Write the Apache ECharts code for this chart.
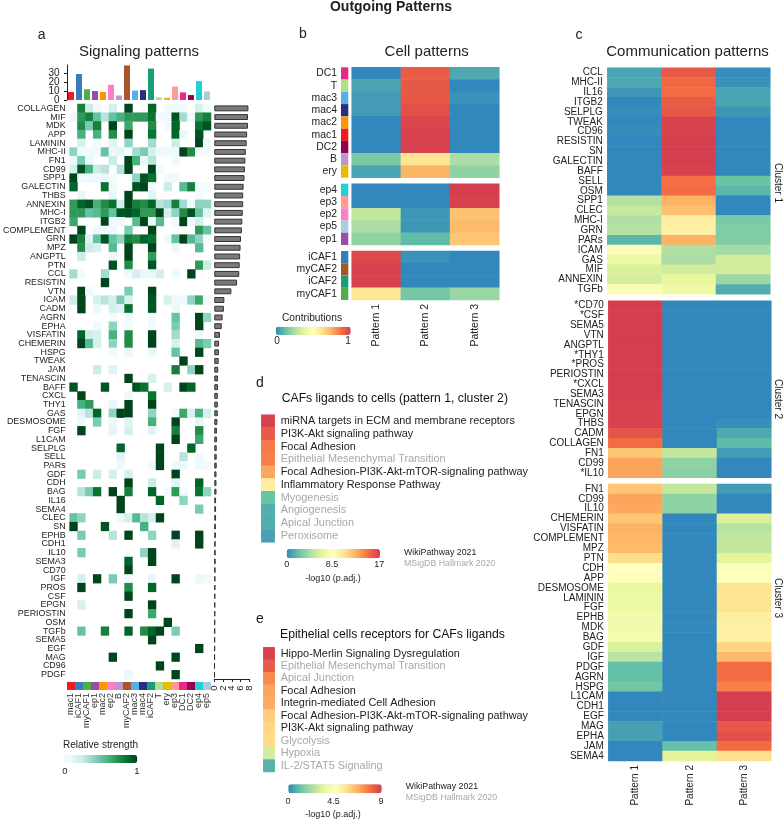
<!DOCTYPE html>
<html>
<head>
<meta charset="utf-8">
<title>Outgoing Patterns</title>
<script src="https://cdn.jsdelivr.net/npm/echarts@6/dist/echarts.min.js"></script>
<style>
  html, body { margin: 0; padding: 0; background: #fff; }
  #chart { width: 783px; height: 821px; }
</style>
</head>
<body>
<div id="chart"></div>
<script>
// cell types, in the column order of panel a
const cellTypes = ['mac1', 'iCAF1', 'myCAF1', 'ep1', 'mac2', 'ep2', 'B', 'myCAF2', 'mac3', 'mac4', 'iCAF2', 'T', 'ery', 'ep3', 'DC1', 'DC2', 'ep4', 'ep5']
const cellColors = ['#ec1c24', '#377eb8', '#4daf4a', '#984ea3', '#ff9600', '#fb7fc4', '#bb99d0', '#a65628', '#56b0e8', '#262e7f', '#1b9e77', '#b2df8a', '#e6bc00', '#ff9a98', '#e7298a', '#990050', '#20d0d8', '#a6cee3']
const cellTotals = [9, 29, 12, 10, 9, 17, 5, 38.5, 10.5, 11, 35, 3, 2.5, 15, 8.5, 5.5, 21, 9.5]
const cellTotalTicks = [0, 10, 20, 30]

// panel a rows
const signalNames = ['COLLAGEN', 'MIF', 'MDK', 'APP', 'LAMININ', 'MHC-II', 'FN1', 'CD99', 'SPP1', 'GALECTIN', 'THBS', 'ANNEXIN', 'MHC-I', 'ITGB2', 'COMPLEMENT', 'GRN', 'MPZ', 'ANGPTL', 'PTN', 'CCL', 'RESISTIN', 'VTN', 'ICAM', 'CADM', 'AGRN', 'EPHA', 'VISFATIN', 'CHEMERIN', 'HSPG', 'TWEAK', 'JAM', 'TENASCIN', 'BAFF', 'CXCL', 'THY1', 'GAS', 'DESMOSOME', 'FGF', 'L1CAM', 'SELPLG', 'SELL', 'PARs', 'GDF', 'CDH', 'BAG', 'IL16', 'SEMA4', 'CLEC', 'SN', 'EPHB', 'CDH1', 'IL10', 'SEMA3', 'CD70', 'IGF', 'PROS', 'CSF', 'EPGN', 'PERIOSTIN', 'OSM', 'TGFb', 'SEMA5', 'EGF', 'MAG', 'CD96', 'PDGF']
const signalTotals = [7.8, 7.7, 7.7, 7.5, 7.4, 7.2, 7.1, 7.0, 6.9, 6.7, 6.6, 6.6, 6.5, 6.4, 6.3, 6.1, 6.0, 5.9, 5.8, 5.7, 5.2, 3.9, 2.3, 2.2, 1.9, 1.7, 1.3, 1.1, 1.05, 1.0, 0.9, 0.85, 0.85, 0.8, 0.8, 0.8, 0.7, 0.6, 0.6, 0.55, 0.55, 0.55, 0.5, 0.5, 0.5, 0.4, 0.4, 0.4, 0.35, 0.35, 0.3, 0.3, 0.3, 0.28, 0.25, 0.25, 0.22, 0.2, 0.2, 0.18, 0.18, 0.15, 0.15, 0.12, 0.1, 0.1]
const signalTotalTicks = [0, 2, 4, 6, 8]
const signalStrength = [
  [0,.8,.25,.03,0,.2, 0,1,0,0,.9,0, .03,.05,.05,0,.2,.05],
  [.07,.7,.8,.5,.3,.5, .6,.7,.7,.7,.85,.05, .05,.95,.35,.05,.7,.8],
  [0,.75,.45,.8,0,1, 0,.65,0,0,.75,0, .03,.9,0,0,.85,.95],
  [0,.6,0,.6,0,.75, 0,1,0,0,.85,0, 0,.9,.08,0,.95,0],
  [0,.2,0,.04,0,.15, 0,.4,0,0,.35,0, 0,.25,0,0,1,.08],
  [.4,.05,.05,.05,.5,.08, .12,.02,.35,.45,.2,.06, .05,.05,1,.75,.03,.03],
  [.06,.45,.07,0,0,.25, 0,1,.6,.1,.3,0, 0,.05,0,0,0,0],
  [.2,.95,.6,.25,.3,0, .3,1,0,0,1,.04, 0,0,0,0,0,0],
  [1,.05,.05,.06,.1,.04, 0,0,.4,.95,.85,0, .03,.05,0,0,0,0],
  [.9,0,0,0,.85,.03, 0,0,.95,1,.03,0, .25,0,.55,.8,.03,.03],
  [0,.1,0,0,0,.1, 0,1,0,0,.15,0, 0,0,0,0,.03,0],
  [.7,.9,.95,.6,.75,.85, .2,1,.8,.75,.9,.3, .35,.8,.35,.03,.4,.4],
  [.7,.7,.5,.55,.7,.5, .95,.95,.9,.7,.7,1, .2,.4,.75,.95,.5,.15],
  [.65,0,0,0,1,.03, .05,0,.55,1,.06,.55, 0,.04,1,.05,.2,0],
  [0,1,0,.06,.02,.06, 0,.45,0,0,1,0, 0,0,0,0,.7,.5],
  [1,.8,.15,.5,.95,.5, .4,.8,.75,.9,.85,0, .05,.5,1,.55,.4,.03],
  [0,.75,.25,.2,0,.55, 0,1,0,0,1,0, 0,.07,0,0,.55,0],
  [0,.25,0,0,0,.08, 0,1,0,0,.7,0, 0,0,0,0,0,0],
  [0,0,0,0,0,.95, 0,.75,0,0,.95,0, 0,0,0,0,.7,.25],
  [.35,.05,0,0,.35,0, 0,.05,.2,.08,.08,.2, 0,.05,0,1,0,0],
  [0,0,0,0,1,0, 0,0,0,0,0,0, 0,0,0,0,0,0],
  [0,1,.05,0,0,0, 0,.45,0,0,1,0, 0,0,0,0,0,0],
  [.25,1,0,.2,.3,.2, .45,.2,0,0,.95,0, .2,.05,.05,.4,.65,.05],
  [0,1,0,.07,0,.2, .15,.85,0,0,.95,0, 0,.07,0,0,0,0],
  [0,0,0,0,0,.04, 0,.06,0,0,.04,0, 0,.5,0,0,1,.4],
  [0,0,0,.05,0,.4, 0,.03,0,0,.03,0, 0,.45,0,0,1,0],
  [0,.9,.25,.2,0,.6, 0,.75,0,0,1,0, 0,.35,0,0,.06,0],
  [0,1,.55,.2,0,.4, 0,.75,0,0,1,0, 0,.2,0,0,.55,.45],
  [0,0,0,0,0,.05, 0,.1,0,0,.08,0, 0,.5,0,0,1,0],
  [0,0,0,0,0,0, 0,0,0,0,0,0, 0,0,1,0,0,0],
  [0,0,0,.25,0,.15, 0,0,0,0,0,0, 0,.8,0,.4,1,0],
  [0,0,0,0,0,0, 0,1,0,0,.2,0, 0,0,0,0,0,0],
  [.95,0,0,0,.95,0, 0,0,.95,.85,0,0, .2,0,1,.9,0,0],
  [0,1,0,0,0,0, 0,.05,0,0,.85,0, 0,0,0,0,0,0],
  [0,.6,.7,0,0,.1, 0,1,0,0,1,0, 0,0,0,0,0,0],
  [0,.15,.3,.9,0,.4, 1,1,0,0,.4,0, 0,.05,.65,.2,.6,.2],
  [0,.06,0,.45,0,.06, 0,.15,0,0,.6,0, 0,1,0,0,.1,0],
  [0,1,0,0,0,.12, 0,.2,0,0,.15,0, 0,.8,0,0,.75,0],
  [0,0,0,0,0,0, 0,0,0,0,0,0, 0,1,0,0,.65,0],
  [0,0,0,0,0,0, .9,0,0,0,0,1, 0,0,0,.9,0,0],
  [0,0,0,0,0,0, .15,0,0,0,0,1, 0,0,.3,0,.05,0],
  [0,0,0,0,0,0, .05,0,0,0,.05,1, 0,.06,.06,0,.06,.04],
  [0,.45,0,.25,0,.2, 0,.2,0,0,0,0, 0,1,0,0,0,0],
  [0,0,0,0,0,0, 0,1,0,0,.25,0, 0,.15,0,0,.9,0],
  [0,.3,.45,.85,0,1, 0,.8,0,0,.9,0, .05,.7,.04,0,.85,.4],
  [0,0,0,0,0,0, 1,0,0,0,0,.9, 0,0,.4,0,0,0],
  [0,0,0,0,0,0, 1,0,0,0,0,0, 0,0,0,0,.45,0],
  [.5,.4,0,0,0,0, .07,.2,.55,.3,.2,1, 0,0,0,0,0,0],
  [1,0,0,0,.95,0, 0,0,0,.6,0,0, 0,0,0,0,0,0],
  [0,.45,0,0,0,.3, 0,1,0,0,.4,0, 0,1,0,0,1,0],
  [0,0,0,0,0,0, 0,0,0,0,0,0, 0,.15,0,0,1,0],
  [0,.45,0,0,0,0, 0,0,0,.4,1,0, 0,0,0,0,0,0],
  [0,0,0,0,0,0, 0,.9,0,0,1,0, 0,0,0,0,0,0],
  [0,0,0,0,0,0, 0,1,0,0,0,0, 0,0,0,0,0,0],
  [0,.2,0,1,0,.45, 0,.05,0,0,.12,0, 0,1,0,0,.07,.05],
  [0,1,0,0,0,0, 0,.75,0,0,.9,0, 0,0,0,0,0,0],
  [0,0,0,0,0,0, 0,1,0,0,0,0, 0,0,0,0,0,0],
  [0,.2,0,0,0,0, 0,0,0,0,1,0, 0,0,0,0,0,0],
  [0,0,0,0,0,0, 0,1,0,0,.65,0, 0,0,0,0,0,0],
  [0,0,0,0,0,0, 0,0,0,0,0,0, 1,0,0,0,0,0],
  [0,.5,0,0,.8,0, 0,.9,0,.75,.9,1, 0,.45,0,0,0,0],
  [0,0,0,0,0,0, 0,0,0,0,1,0, 0,0,0,0,0,0],
  [0,0,0,0,0,0, 0,0,0,0,0,0, 0,0,0,0,1,0],
  [0,0,0,0,0,1, 0,0,0,0,0,0, 0,1,0,0,0,0],
  [0,0,0,0,0,0, 0,0,0,0,0,1, 0,0,0,0,0,0],
  [0,0,0,0,0,0, 0,.1,0,0,0,0, 0,1,0,0,0,0]
]

const patterns = ['Pattern 1', 'Pattern 2', 'Pattern 3']

// panel b
const cellGroup1 = ['DC1', 'T', 'mac3', 'mac4', 'mac2', 'mac1', 'DC2', 'B', 'ery']
const cellGroup1Values = [[0,.92,.07],[.06,.93,0],[.04,.93,.02],[.04,.95,0],[0,.98,0],[0,.99,0],[0,.99,0],[.16,.6,.25],[.06,.73,.2]]
const cellGroup2 = ['ep4', 'ep3', 'ep2', 'ep5', 'ep1']
const cellGroup2Values = [[0,0,1],[0,0,.99],[.3,.03,.7],[.25,.03,.72],[.2,.11,.69]]
const cellGroup3 = ['iCAF1', 'myCAF2', 'iCAF2', 'myCAF1']
const cellGroup3Values = [[.97,.02,0],[.99,0,0],[.99,0,0],[.6,.15,.22]]

// panel c
const cluster1 = ['CCL', 'MHC-II', 'IL16', 'ITGB2', 'SELPLG', 'TWEAK', 'CD96', 'RESISTIN', 'SN', 'GALECTIN', 'BAFF', 'SELL', 'OSM', 'SPP1', 'CLEC', 'MHC-I', 'GRN', 'PARs', 'ICAM', 'GAS', 'MIF', 'ANNEXIN', 'TGFb']
const cluster1Values = [[.06,.93,.01],[.07,.89,.02],[.03,.88,.06],[0,.92,.06],[.01,.93,.03],[0,.99,0],[.01,.99,0],[0,1,0],[0,1,0],[0,1,0],[0,.99,0],[0,.87,.13],[0,.88,.1],[.27,.74,0],[.31,.71,0],[.26,.57,.16],[.27,.56,.17],[.1,.74,.17],[.47,.26,.24],[.41,.25,.33],[.35,.33,.33],[.34,.39,.22],[.47,.42,.08]]
const cluster2 = ['*CD70', '*CSF', 'SEMA5', 'VTN', 'ANGPTL', '*THY1', '*PROS', 'PERIOSTIN', '*CXCL', 'SEMA3', 'TENASCIN', 'EPGN', 'THBS', 'CADM', 'COLLAGEN', 'FN1', 'CD99', '*IL10']
const cluster2Values = [[1,0,0],[1,0,0],[1,0,0],[1,0,0],[1,0,0],[1,0,0],[1,0,0],[1,0,0],[1,0,0],[1,0,0],[.99,0,0],[.99,0,0],[.99,0,.015],[.94,0,.07],[.88,0,.11],[.69,.3,.04],[.77,.2,0],[.77,.19,0]]
const cluster3 = ['FN1', 'CD99', 'IL10', 'CHEMERIN', 'VISFATIN', 'COMPLEMENT', 'MPZ', 'PTN', 'CDH', 'APP', 'DESMOSOME', 'LAMININ', 'FGF', 'EPHB', 'MDK', 'BAG', 'GDF', 'IGF', 'PDGF', 'AGRN', 'HSPG', 'L1CAM', 'CDH1', 'EGF', 'MAG', 'EPHA', 'JAM', 'SEMA4']
const cluster3Values = [[.69,.3,.04],[.77,.2,0],[.76,.2,0],[.69,0,.35],[.74,0,.28],[.73,0,.3],[.72,0,.3],[.63,0,.37],[.5,0,.49],[.49,0,.5],[.4,0,.61],[.41,0,.6],[.41,0,.61],[.44,0,.57],[.44,0,.56],[.45,0,.56],[.35,0,.65],[.28,0,.72],[.12,0,.88],[.12,0,.88],[.15,0,.84],[0,0,1],[0,0,1],[0,0,1],[.05,0,.93],[.05,0,.95],[0,.12,.88],[0,.37,.62]]

// panels d and e, -log10(p.adj.)
const ligandPathways = ['miRNA targets in ECM and membrane receptors', 'PI3K-Akt signaling pathway', 'Focal Adhesion', 'Epithelial Mesenchymal Transition', 'Focal Adhesion-PI3K-Akt-mTOR-signaling pathway', 'Inflammatory Response Pathway', 'Myogenesis', 'Angiogenesis', 'Apical Junction', 'Peroxisome']
const ligandLog10 = [16.8, 15.8, 14.5, 14.3, 13.0, 9.7, 2.2, 1.4, 1.3, 0.9]
const ligandHallmark = [false, false, false, true, false, false, true, true, true, true]
const receptorPathways = ['Hippo-Merlin Signaling Dysregulation', 'Epithelial Mesenchymal Transition', 'Apical Junction', 'Focal Adhesion', 'Integrin-mediated Cell Adhesion', 'Focal Adhesion-PI3K-Akt-mTOR-signaling pathway', 'PI3K-Akt signaling pathway', 'Glycolysis', 'Hypoxia', 'IL-2/STAT5 Signaling']
const receptorLog10 = [8.9, 8.3, 7.4, 6.9, 6.8, 6.0, 5.8, 5.7, 3.0, 0.8]
const receptorHallmark = [false, true, true, false, false, false, false, true, true, true]

const FONT = '"Liberation Sans", Arial, sans-serif'
const INK = '#222'
const MUTED = '#a8a8a8'
const SPECTRAL = ['#3288bd', '#66c2a5', '#abdda4', '#e6f598', '#ffffbf', '#fee08b', '#fdae61', '#f46d43', '#d53e4f']
const BUGN = ['#f7fcfd', '#e5f5f9', '#ccece6', '#99d8c9', '#66c2a4', '#41ae76', '#238b45', '#006d2c', '#00441b']

const grid = []
const xAxis = []
const yAxis = []
const series = []
const graphic = []

const noLine = { axisLine: { show: false }, axisTick: { show: false }, splitLine: { show: false } }

// adds a grid with its axes and returns its index
function addGrid(box, xa, ya) {
  const i = grid.length
  grid.push(Object.assign({ containLabel: false }, box))
  xAxis.push(Object.assign({ gridIndex: i }, xa))
  yAxis.push(Object.assign({ gridIndex: i }, ya))
  return i
}

function catAxis(data, extra) {
  return Object.assign({ type: 'category', data: data }, noLine, extra)
}

function tickLabels(size, extra) {
  return Object.assign({ interval: 0, fontSize: size, fontFamily: FONT, color: INK }, extra)
}

// matrix rows -> [col, row, value], empty cells stay white
function addHeat(gridIndex, matrix) {
  const data = []
  matrix.forEach((row, r) => row.forEach((v, c) => {
    if (v > 0 || matrix !== signalStrength) data.push([c, r, v])
  }))
  series.push({
    type: 'heatmap', xAxisIndex: gridIndex, yAxisIndex: gridIndex, data: data,
    silent: true, progressive: 0, itemStyle: { borderWidth: 0 }
  })
  return series.length - 1
}

// solid colour strips, drawn as full width bars
function addStrip(gridIndex, names) {
  const data = names.map(n => ({ value: 1, itemStyle: { color: cellColors[cellTypes.indexOf(n)] } }))
  series.push({
    type: 'bar', xAxisIndex: gridIndex, yAxisIndex: gridIndex, barWidth: '100%', silent: true, data: data
  })
}

function text(str, x, y, size, opts) {
  const o = opts || {}
  graphic.push({
    type: 'text', x: x, y: y, rotation: o.rotation || 0, silent: true,
    style: {
      text: str, fill: o.color || INK, align: o.align || 'center', verticalAlign: 'middle',
      font: (o.bold ? 'bold ' : '') + size + 'px ' + FONT
    }
  })
}

const unitRange = { type: 'value', min: 0, max: 1, show: false }
const darkLine = { show: true, onZero: false, lineStyle: { color: '#222', width: 1 } }

// value axis with exactly the given ticks. ECharts thins these labels because
// they are tighter than their own height, so they are placed after the first render
function countAxis(max, ticks, extra) {
  return Object.assign({
    type: 'value', min: 0, max: max,
    axisLine: darkLine,
    axisTick: { show: true, length: 3, customValues: ticks, lineStyle: { color: '#222' } },
    splitLine: { show: false },
    axisLabel: { show: false }
  }, extra)
}

// panel a: totals on top
const gTop = addGrid({ left: 67, top: 65, width: 144, height: 35 },
  catAxis(cellTypes, { show: false }),
  countAxis(39, cellTotalTicks))
series.push({
  type: 'bar', xAxisIndex: gTop, yAxisIndex: gTop, barWidth: '75%', silent: true,
  data: cellTotals.map((v, i) => ({ value: v, itemStyle: { color: cellColors[i] } }))
})

// panel a: heatmap
const gSignal = addGrid({ left: 67, top: 104, width: 144, height: 575 },
  catAxis(cellTypes, { show: false }),
  catAxis(signalNames, { inverse: true, axisLabel: tickLabels(8.9, { margin: 4 }) }))
const heatSignal = addHeat(gSignal, signalStrength)

// panel a: row totals
const gSide = addGrid({ left: 214.3, top: 104, width: 35, height: 575 },
  countAxis(8, signalTotalTicks, { position: 'bottom' }),
  catAxis(signalNames, { inverse: true, show: false }))
series.push({
  type: 'bar', xAxisIndex: gSide, yAxisIndex: gSide, barWidth: '68%', silent: true, data: signalTotals,
  itemStyle: { color: '#7a7a7a', borderColor: '#333', borderWidth: 1 }
})

// panel a: cell colours under the heatmap
const gCells = addGrid({ left: 67, top: 682, width: 144, height: 8 },
  catAxis(cellTypes, { axisLabel: tickLabels(9, { rotate: 90, margin: 3, color: '#333' }) }),
  unitRange)
addStrip(gCells, cellTypes)

// panel b
const cellBlocks = [
  { names: cellGroup1, values: cellGroup1Values, top: 67.3, height: 110.4 },
  { names: cellGroup2, values: cellGroup2Values, top: 183.7, height: 61.3 },
  { names: cellGroup3, values: cellGroup3Values, top: 251, height: 49 }
]
const heatCell = []
cellBlocks.forEach((b, i) => {
  const g = addGrid({ left: 341, top: b.top, width: 7.3, height: b.height },
    unitRange,
    catAxis(b.names, { inverse: true, axisLabel: tickLabels(10.4, { margin: 4 }) }))
  addStrip(g, b.names)
  const last = i === cellBlocks.length - 1
  const h = addGrid({ left: 351.7, top: b.top, width: 147.6, height: b.height },
    catAxis(patterns, last ? { axisLabel: tickLabels(10.5, { rotate: 90, margin: 4 }) } : { show: false }),
    catAxis(b.names, { inverse: true, show: false }))
  heatCell.push(addHeat(h, b.values))
})

// panel c
const clusterBlocks = [
  { names: cluster1, values: cluster1Values, left: 607.3, top: 67.7, height: 226.6 },
  { names: cluster2, values: cluster2Values, left: 608.3, top: 300.7, height: 177 },
  { names: cluster3, values: cluster3Values, left: 608.3, top: 484, height: 277 }
]
const heatComm = []
clusterBlocks.forEach((b, i) => {
  const last = i === clusterBlocks.length - 1
  const h = addGrid({ left: b.left, top: b.top, width: 163, height: b.height },
    catAxis(patterns, last ? { axisLabel: tickLabels(10, { rotate: 90, margin: 4 }) } : { show: false }),
    catAxis(b.names, { inverse: true, axisLabel: tickLabels(10, { margin: 4.5 }) }))
  heatComm.push(addHeat(h, b.values))
})

// panels d and e
function addPathways(box, names, values, hallmark) {
  const g = addGrid(box, catAxis(['x'], { show: false }),
    catAxis(names.map((n, i) => ({
      value: n, textStyle: { color: hallmark[i] ? MUTED : INK }
    })), {
      inverse: true, position: 'right',
      axisLabel: { interval: 0, fontSize: 10.9, fontFamily: FONT, align: 'left', margin: 6 }
    }))
  return addHeat(g, values.map(v => [v]))
}
const heatLigand = addPathways({ left: 261.3, top: 414.7, width: 13.4, height: 127.6 }, ligandPathways, ligandLog10, ligandHallmark)
const heatReceptor = addPathways({ left: 263.3, top: 647.3, width: 11.4, height: 124.7 }, receptorPathways, receptorLog10, receptorHallmark)

// colour scales, the visible ones draw the legend ramps
function scale(seriesIndex, min, max, colors, bar) {
  const vm = {
    type: 'continuous', seriesIndex: seriesIndex, min: min, max: max,
    inRange: { color: colors }, calculable: false, hoverLink: false, padding: 0, text: null,
    show: !!bar, orient: 'horizontal'
  }
  if (bar) Object.assign(vm, { left: bar[0], top: bar[1], itemHeight: bar[2], itemWidth: bar[3] })
  return vm
}
const visualMap = [
  scale(heatSignal, 0, 1, BUGN, [64.3, 755, 73, 8]),
  scale(heatCell, 0, 1, SPECTRAL, [275.7, 326.7, 75, 8.3]),
  scale(heatComm, 0, 1, SPECTRAL),
  scale(heatLigand, 0, 17, SPECTRAL, [286.7, 549, 93.3, 9.3]),
  scale(heatReceptor, 0, 9, SPECTRAL, [288.3, 784.3, 93.4, 9])
]

// titles and legend text
text('Outgoing Patterns', 391, 7, 14, { bold: true })
text('a', 41.7, 35, 14)
text('b', 303, 34, 14)
text('c', 579, 35, 14)
text('d', 260, 383, 14)
text('e', 260, 619, 14)
text('Signaling patterns', 139, 52, 15)
text('Cell patterns', 426.7, 52, 15)
text('Communication patterns', 687.5, 52, 15)
text('Relative strength', 100.5, 745, 10)
text('0', 65, 771, 9.5)
text('1', 137, 771, 9.5)
text('Contributions', 312, 318, 10.2)
text('0', 277, 341, 10)
text('1', 348, 341, 10)
text('Cluster 1', 778, 183, 10, { rotation: -Math.PI / 2 })
text('Cluster 2', 778, 399, 10, { rotation: -Math.PI / 2 })
text('Cluster 3', 778, 598, 10, { rotation: -Math.PI / 2 })
text('CAFs ligands to cells (pattern 1, cluster 2)', 281.7, 399, 12.2, { align: 'left', color: '#111' })
text('0', 286.7, 565, 9)
text('8.5', 332, 565, 9)
text('17', 379.3, 565, 9)
text('-log10 (p.adj.)', 333, 579, 9)
text('WikiPathway 2021', 404, 552.7, 8.8, { align: 'left' })
text('MSigDB Hallmark 2020', 404, 563.5, 8.8, { align: 'left', color: MUTED })
text('Epithelial cells receptors for CAFs ligands', 280, 635, 12.2, { align: 'left', color: '#111' })
text('0', 288, 802, 9)
text('4.5', 333.5, 802, 9)
text('9', 381, 802, 9)
text('-log10 (p.adj.)', 333, 815, 9)
text('WikiPathway 2021', 405.7, 787, 8.8, { align: 'left' })
text('MSigDB Hallmark 2020', 405.7, 798, 8.8, { align: 'left', color: MUTED })

const chart = echarts.init(document.getElementById('chart'), null, { renderer: 'canvas' })
chart.setOption({
  animation: false,
  backgroundColor: '#fff',
  textStyle: { fontFamily: FONT },
  grid: grid,
  xAxis: xAxis,
  yAxis: yAxis,
  visualMap: visualMap,
  series: series,
  graphic: graphic
})

// tick labels of the two count axes, positioned through their scales
cellTotalTicks.forEach(v => {
  text(String(v), 59.5, chart.convertToPixel({ yAxisIndex: gTop }, v), 10, { align: 'right' })
})
signalTotalTicks.forEach(v => {
  text(String(v), chart.convertToPixel({ xAxisIndex: gSide }, v), 688, 9.5, { rotation: Math.PI / 2 })
})
chart.setOption({ graphic: graphic })
</script>
</body>
</html>
